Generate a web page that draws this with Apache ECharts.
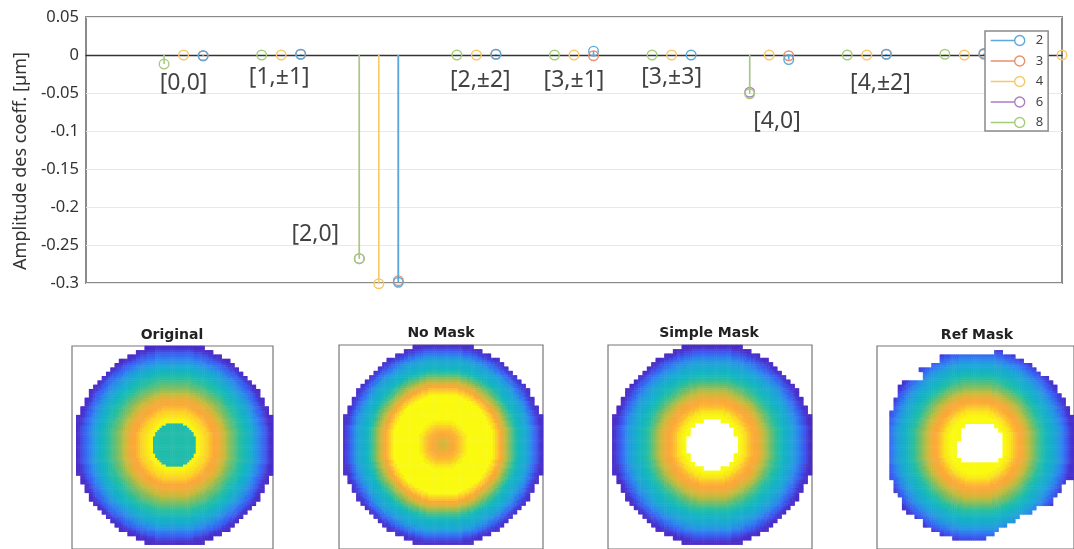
<!DOCTYPE html>
<html><head><meta charset="utf-8">
<style>html,body{margin:0;padding:0;background:#fff;overflow:hidden}#c{width:1074px;height:549px;filter:blur(0.4px)}</style>
<script src="https://cdn.jsdelivr.net/npm/echarts@6/dist/echarts.min.js"></script>
</head><body><div id="c"></div>
<script>
// ---- stem plot data ----
const seriesNames = ['2','3','4','6','8'];
const seriesColors = {'2':'#5aa9dc','3':'#ec8f6f','4':'#f7c865','6':'#ab7dc5','8':'#a5cd78'};
const leftPositions  = [4,9,14,19,24,29,34,39,44,49];
const midPositions   = [5,10,15,20,25,30,35,40,45,50];
const rightPositions = [6,11,16,21,26,31,36,41,46];
const values2 = [-0.001,0.001,-0.299,0.001,0.005,0,-0.006,0.001,0.002];
const values3 = [-0.001,0.001,-0.297,0.001,-0.001,null,-0.001,0.001,0.001];
const values4 = [0,0,-0.301,0,0,0,0,0,0,0];
const values6 = [null,null,-0.268,null,null,null,-0.049,null,null,null];
const values8 = [-0.012,0,-0.268,0,0,0,-0.051,0,0.001,0];
const yTickLabels = {'0.05':'0.05','0':'0','-0.05':'-0.05','-0.1':'-0.1','-0.15':'-0.15','-0.2':'-0.2','-0.25':'-0.25','-0.3':'-0.3'};
// ---- annotation labels ----
const noteTexts = ['[0,0]','[1,\u00b11]','[2,0]','[2,\u00b12]','[3,\u00b11]','[3,\u00b13]','[4,0]','[4,\u00b12]'];
const noteX = [5.0,9.9,11.75,20.2,25.0,30.0,35.4,40.7];
const noteY = [-0.038,-0.029,-0.236,-0.034,-0.034,-0.029,-0.088,-0.038];
// ---- surface panels ----
const panelTitles = ['Original','No Mask','Simple Mask','Ref Mask'];
// half-width (cells) of the disc for the 23 rows from the top edge to the centre
const discRowHalf = [7,9,11,13,14,15,16,17,18,19,20,20,21,21,22,22,23,23,23,23,23,23,23];
// level read along the horizontal radius at half-cell steps, centre to rim
const profileOriginal = [.47,.47,.47,.47,.47,.47,.47,.47,.47,.47,.47,.99,.98,.96,.94,.92,.9,.86,.83,.8,.79,.78,.76,.72,.7,.66,.63,.6,.58,.55,.53,.5,.48,.45,.42,.39,.36,.32,.28,.25,.21,.17,.13,.1,.06,.02,0];
const profileNoMask   = [.73,.73,.74,.76,.78,.8,.82,.84,.87,.9,.94,.97,1,1,1,1,1,1,1,1,1,1,1,1,.95,.9,.85,.8,.76,.71,.66,.62,.57,.53,.48,.43,.4,.37,.34,.31,.27,.23,.17,.13,.08,.04,.01];
const profileSimple   = [1,1,1,1,1,1,1,1,1,1,1,1,1,1,.98,.96,.93,.88,.85,.82,.8,.79,.77,.74,.71,.67,.64,.6,.57,.54,.51,.48,.45,.42,.4,.37,.34,.31,.28,.25,.21,.17,.13,.09,.06,.02,0];
const profileRef      = [1,1,1,1,1,1,1,1,1,1,1,1,1,1,.99,.97,.95,.91,.87,.84,.81,.8,.78,.75,.72,.69,.65,.62,.59,.56,.53,.5,.47,.44,.41,.38,.35,.32,.29,.26,.22,.18,.14,.1,.07,.03,.01];
// masked-centre half-widths, row by row
const holeOriginal = [1,3,4,4,5,5,4,4,3,1];
const holeSimple   = [2,4,5,5,6,6,6,6,5,5,4,2];
// Ref Mask outline: row -> [first col, last col]; rows 1..44
const refRows = [[27,28],[14,31],[14,33],[12,35],[9,36],[10,37],[10,39],[5,40],[4,41],[4,41],[4,42],[3,43],[3,43],[3,44],[2,44],
 [2,45],[2,45],[2,45],[2,45],[2,45],[2,45],[2,45],[2,45],[2,45],[2,45],[2,45],[2,45],[2,45],[2,45],[2,45],
 [3,43],[3,42],[3,42],[4,41],[5,40],[5,40],[5,36],[6,35],[8,32],[10,31],[10,29],[12,27],[14,26],[17,24]];
// Ref Mask hole: rows 18..26 -> [first col, last col]
const refHoleRows = [[20,26],[19,27],[19,28],[19,28],[18,28],[18,28],[18,28],[18,28],[19,27]];
const surfaceColors = ['#4a2cc8','#3a5cf0','#2f86ee','#1fa4d8','#14b4c4','#28bfa0','#7dbe62','#c8bb3c','#fca838','#fcd028','#f9fa10'];
// ---- end of data ----

function inSymHole(list, col, row){
  if(!list) return false;
  const start = 23 - list.length/2, idx = row - start;
  if(idx<0 || idx>=list.length) return false;
  return col >= 23-list[idx] && col <= 22+list[idx];
}
// each picture cell is written as 2x2 sub-cells so the radial profile's half-cell steps show
function pushCell(out, profile, c, row, coreLevel){
  for(let sy=0; sy<2; sy++) for(let sx=0; sx<2; sx++){
    const r = Math.hypot(c+(sx+.5)/2-23, row+(sy+.5)/2-23);
    const lvl = coreLevel!==undefined ? coreLevel : profile[Math.min(Math.round(r*2), profile.length-1)];
    out.push([2*(c+1)+sx, 2*row+sy, lvl]);
  }
}
function discCells(profile, hole, coreLevel){
  const out = [];
  for(let row=0; row<46; row++){
    const half = discRowHalf[row<23 ? row : 45-row];
    for(let c=23-half; c<=22+half; c++){
      const isHole = inSymHole(hole, c, row);
      if(isHole && coreLevel===undefined) continue;
      pushCell(out, profile, c, row, isHole ? coreLevel : undefined);
    }
  }
  return out;
}
function refCells(profile){
  const out = [];
  refRows.forEach((ext,i)=>{
    const row = i+1, h = refHoleRows[row-18];
    for(let c=ext[0]; c<=ext[1]; c++){
      if(h && c>=h[0] && c<=h[1]) continue;
      pushCell(out, profile, c, row);
    }
  });
  return out;
}
const panelData = [
  discCells(profileOriginal, holeOriginal, profileOriginal[0]),
  discCells(profileNoMask),
  discCells(profileSimple, holeSimple),
  refCells(profileRef)
];
const panelBoxes = [[72,346,201,204],[339,345,204,205],[608,345,204,205],[877,346,204,204]];
const titleCenters = [[172,335],[441,333],[709,333],[977,335]];
const cellAxis = Array.from({length:94},(_,i)=>String(i));

const zip = (xs,ys)=>xs.map((x,i)=>[x,ys[i]]).filter(p=>p[1]!==null);
const stemData = {'2':zip(rightPositions,values2),'3':zip(rightPositions,values3),'4':zip(midPositions,values4),'6':zip(leftPositions,values6),'8':zip(leftPositions,values8)};
const drawOrder = ['3','2','4','6','8'];

function stemRender(name){
  return (p,api)=>{
    const x=api.value(0), y=api.value(1);
    const a=api.coord([x,0]), b=api.coord([x,y]);
    const col=seriesColors[name];
    return {type:'group',children:[
      {type:'line',shape:{x1:a[0],y1:a[1],x2:b[0],y2:b[1]},style:{stroke:col,lineWidth:name==='6'?0.8:1.6}},
      {type:'circle',shape:{cx:b[0],cy:b[1],r:4.8},style:{stroke:col,fill:'none',lineWidth:1.4,blend:'multiply'}}
    ]};
  };
}

const grids=[{left:86,top:17,width:976,height:266,show:true,borderColor:'#8a8a8a',borderWidth:2,backgroundColor:'#fff'}];
const xAxes=[{gridIndex:0,type:'value',min:0,max:50,show:true,axisLabel:{show:false},axisTick:{show:false},splitLine:{show:false},
  axisLine:{show:true,onZero:true,lineStyle:{color:'#333',width:1.4}}}];
const yAxes=[{gridIndex:0,type:'value',min:-0.3,max:0.05,interval:0.05,axisLine:{show:false},axisTick:{show:false},
  axisLabel:{margin:7,fontFamily:'Noto Sans',fontSize:16.5,color:'#333',formatter:v=>yTickLabels[String(+v.toFixed(2))]},
  splitLine:{show:true,lineStyle:{color:'#e8e8e8',width:1.2}}}];
const series=[];
drawOrder.forEach(n=>series.push({name:n,type:'custom',xAxisIndex:0,yAxisIndex:0,coordinateSystem:'cartesian2d',
  data:stemData[n],encode:{x:0,y:1},itemStyle:{color:seriesColors[n]},renderItem:stemRender(n),silent:true,z:3}));
series.push({type:'scatter',xAxisIndex:0,yAxisIndex:0,symbolSize:0,silent:true,z:4,
  data:noteTexts.map((t,i)=>({value:[noteX[i],noteY[i]],name:t})),
  label:{show:true,position:'inside',formatter:'{b}',fontFamily:'Noto Sans',fontSize:23,color:'#111'}});
const heatStart=series.length;
panelBoxes.forEach((b,i)=>{
  grids.push({left:b[0],top:b[1],width:b[2],height:b[3],show:true,borderColor:'#777',borderWidth:1.2,backgroundColor:'#fff'});
  xAxes.push({gridIndex:i+1,type:'category',data:cellAxis,show:false});
  yAxes.push({gridIndex:i+1,type:'category',data:cellAxis,inverse:true,show:false});
  series.push({type:'heatmap',xAxisIndex:i+1,yAxisIndex:i+1,data:panelData[i],silent:true,progressive:0,emphasis:{disabled:true}});
});

echarts.init(document.getElementById('c'),null,{renderer:'canvas'}).setOption({
  animation:false,backgroundColor:'#fff',
  title:panelTitles.map((t,i)=>({text:t,left:titleCenters[i][0],top:titleCenters[i][1]-7,textAlign:'center',padding:0,
    textStyle:{fontFamily:'DejaVu Sans',fontWeight:'bold',fontSize:14,color:'#222'}})),
  grid:grids,xAxis:xAxes,yAxis:yAxes,series,
  visualMap:{show:false,type:'continuous',min:0,max:1,dimension:2,seriesIndex:[0,1,2,3].map(i=>heatStart+i),inRange:{color:surfaceColors}},
  legend:{show:true,orient:'vertical',left:985,top:31,selectedMode:false,z:10,
    data:seriesNames.map(n=>({name:n,itemStyle:{color:'transparent',borderColor:seriesColors[n],borderWidth:1.4}})),
    backgroundColor:'#fff',borderColor:'#8a8a8a',borderWidth:1.5,borderRadius:0,padding:[3,5,2,5],
    itemWidth:34,itemHeight:10,itemGap:7.5,
    icon:'path://M0 5H24M24 5a5 5 0 1 0 10 0a5 5 0 1 0-10 0',
    textStyle:{fontFamily:'Noto Sans',fontSize:13,color:'#444',padding:[0,0,0,6]}},
  graphic:[{type:'text',x:21,y:161,rotation:Math.PI/2,style:{text:'Amplitude des coeff. [\u00b5m]',fontFamily:'Noto Sans',fontSize:18,fill:'#333',align:'center',verticalAlign:'middle'}}]
});
</script></body></html>
